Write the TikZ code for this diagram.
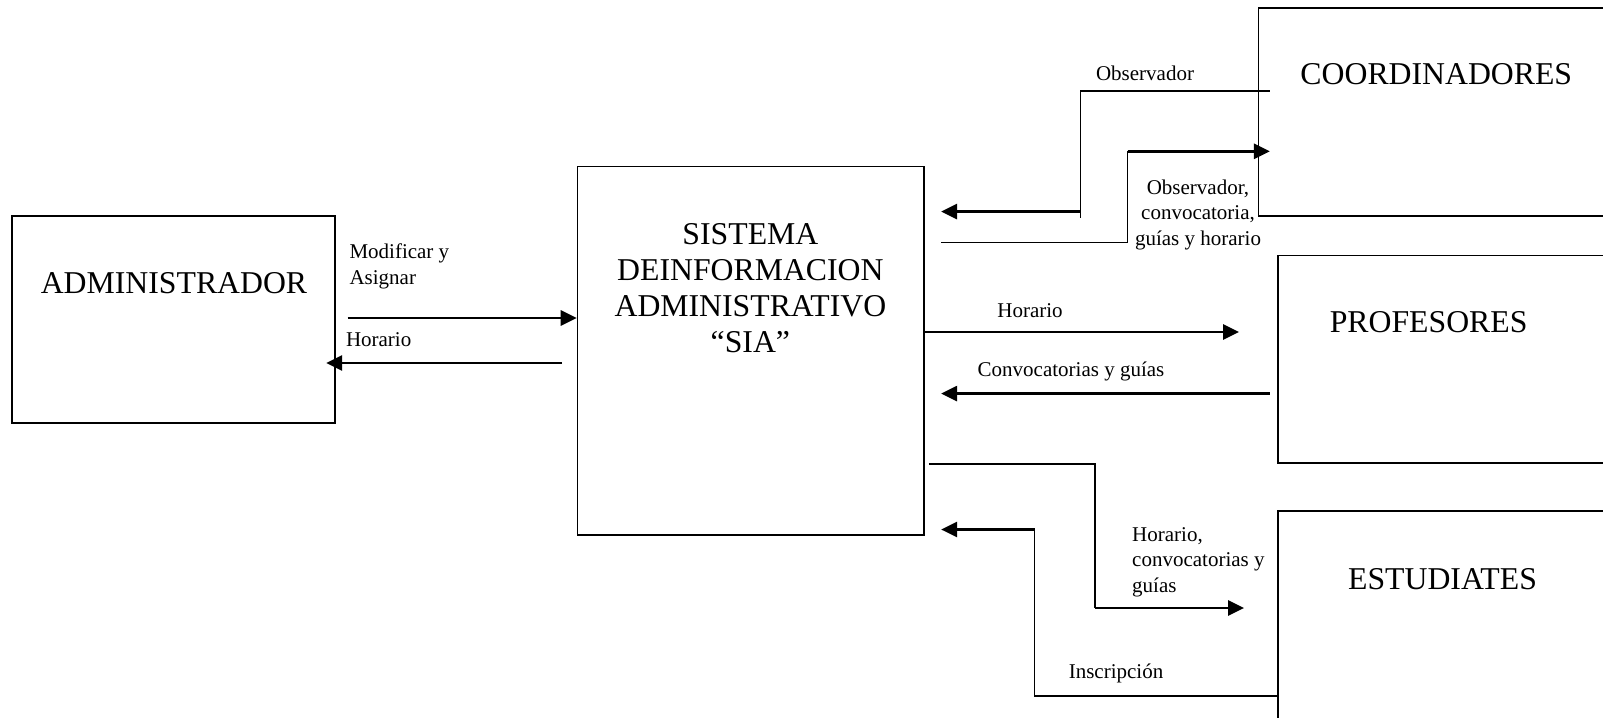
\documentclass[tikz,border=0pt]{standalone}
\usepackage{fontspec}
\setmainfont{Liberation Serif}
\usetikzlibrary{arrows.meta,fit}

\tikzset{
  box/.style={draw,line width=0.7pt,inner sep=0pt},
  boxtitle/.style={font=\fontsize{12.7}{14.4}\selectfont,align=center,inner sep=0pt},
  lbl/.style={font=\fontsize{8.4}{10.2}\selectfont,inner sep=0pt},
  wire/.style={line width=0.5pt},
  flow/.style={line width=1.1pt,-{Triangle[length=6.4pt,width=6pt]}},
  tosia/.style={shorten >=6.4pt}
}

\begin{document}
\begin{tikzpicture}[x=0.4pt,y=-0.4pt]
  \useasboundingbox (0,0) rectangle (1603,718);
  \node[box,fit={(12.3,215.7) (335.3,423.2)}]  (admin) {};
  \node[box,fit={(577.6,166.6) (924.2,534.7)}] (sia)   {};
  \node[box,fit={(1258.5,8.2) (1640,215.7)}]   (coord) {};
  \node[box,fit={(1278,255.6) (1640,463)}]     (prof)  {};
  \node[box,fit={(1278,511) (1640,740)}]       (estud) {};

  \node[boxtitle] (admintxt) at (174,283)      {ADMINISTRADOR};
  \node[boxtitle] (siatxt)   at (750.4,288.5)  {SISTEMA\\DEINFORMACION\\ADMINISTRATIVO\\“SIA”};
  \node[boxtitle] (coordtxt) at (1436.3,74.6)  {COORDINADORES};
  \node[boxtitle] (proftxt)  at (1428.6,322)   {PROFESORES};
  \node[boxtitle] (estudtxt) at (1442.5,579.6) {ESTUDIATES};

  \coordinate (modif)  at (347.6,318);
  \coordinate (hor)    at (562,363);
  \coordinate (obsend) at (1080.6,218);
  \coordinate (obsft)  at (1080.6,211.6);
  \coordinate (ocg)    at (1127.6,151.3);
  \coordinate (hcg)    at (1095,608);
  \coordinate (insc)   at (1034.6,529.5);

  \draw[flow] (modif) -- (modif -| sia.west);
  \draw[flow,shorten >=-4pt] (hor) -- (hor -| admin.east);
  \draw[wire,shorten <=-4.8pt] (coord.west |- 0,91) -| (obsend);
  \draw[flow,tosia] (obsft) -- (obsft -| sia.east);
  \draw[wire,shorten <=6.5pt] (sia.east |- 0,242.3) -| (ocg);
  \draw[flow,shorten >=-4.9pt] (ocg) -- (ocg -| coord.west);
  \draw[flow,shorten >=15.2pt] (sia.east |- 0,332) -- (prof.west |- 0,332);
  \draw[flow,shorten <=2.9pt,tosia] (prof.west |- 0,393.6) -- (sia.east |- 0,393.6);
  \draw[wire,shorten <=1.5pt] (sia.east |- 0,464) -| (hcg);
  \draw[flow,shorten >=13.2pt] (hcg) -- (hcg -| estud.west);
  \draw[wire] (estud.west |- 0,696) -| (insc);
  \draw[flow,tosia] (insc) -- (insc -| sia.east);

  \node[lbl,align=left,anchor=west] (modiftxt) at (349,266.2) {Modificar y\\Asignar};
  \node[lbl,anchor=west] (hortxt)  at (345.5,340) {Horario};
  \node[lbl] (obstxt)  at (1145,73.6) {Observador};
  \node[lbl,align=center] (ocgtxt) at (1198,214.7) {Observador,\\convocatoria,\\guías y horario};
  \node[lbl] (horptxt) at (1030,310.8) {Horario};
  \node[lbl] (convtxt) at (1071,371) {Convocatorias y guías};
  \node[lbl,align=left,anchor=west] (hcgtxt) at (1131.7,562) {Horario,\\convocatorias y\\guías};
  \node[lbl] (insctxt) at (1116,673.7) {Inscripción};
\end{tikzpicture}
\end{document}
